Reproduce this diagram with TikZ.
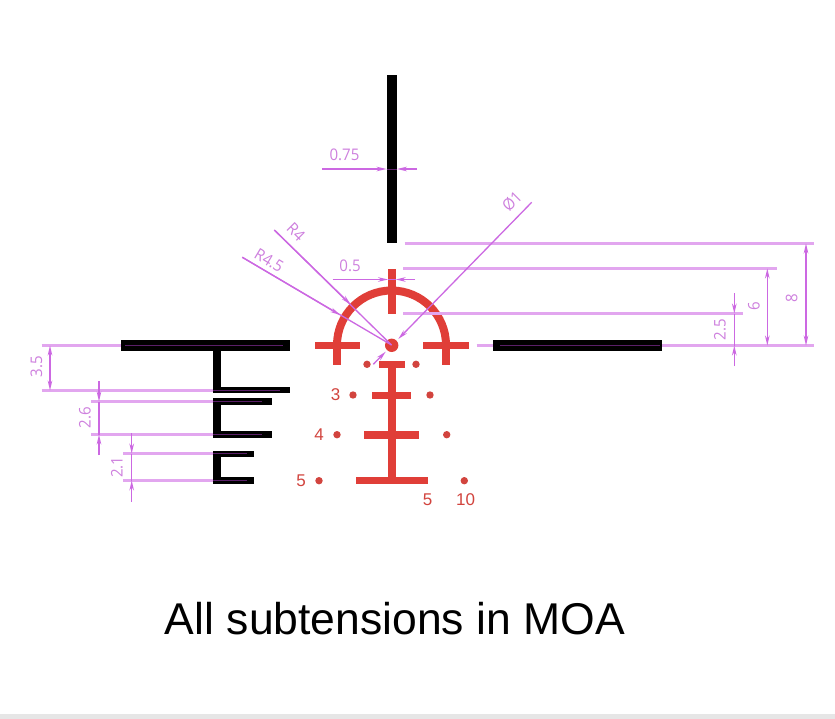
\documentclass[tikz,border=0pt]{standalone}
\usepackage{fontspec}
\setmainfont{Liberation Sans}
\newfontfamily\dimfont[FakeStretch=0.94]{Open Sans}
\usetikzlibrary{arrows.meta}
\definecolor{dimc}{HTML}{CC68E2}
\definecolor{dimh}{HTML}{E2A6EF}
\definecolor{dimt}{HTML}{CE80DE}
\definecolor{dimover}{HTML}{5A1F68}
\definecolor{retred}{HTML}{E03E38}
\definecolor{labred}{HTML}{D2443E}
\definecolor{foot}{HTML}{E6E6E6}
\tikzset{
  dimline/.style={draw=dimc,line width=1.3pt},
  extline/.style={draw=dimh,line width=2.1pt},
  overline/.style={draw=dimover,line width=0.8pt},
  dimarrow/.style={dimline,-{Stealth[length=10pt,width=4.6pt]}},
  dimboth/.style={dimline,{Stealth[length=10pt,width=4.6pt]}-{Stealth[length=10pt,width=4.6pt]}},
  dimlabel/.style={text=dimt,font=\dimfont\fontsize{16}{18}\selectfont,inner sep=0pt},
  redlabel/.style={text=labred,font=\fontsize{17}{19}\selectfont,inner sep=0pt},
  redbar/.style={fill=retred},
  blackbar/.style={fill=black},
  reddot/.style={fill=labred}
}
\begin{document}
\begin{tikzpicture}[x=1pt,y=-1pt]
\useasboundingbox (0,0) rectangle (835,719);
\fill[white] (0,0) rectangle (835,719);
\fill[foot] (0,714) rectangle (835,719);
% black reticle
\fill[blackbar] (386.5,75) rectangle (397,243);
\fill[blackbar] (121.3,340.3) rectangle (290,350.7);
\fill[blackbar] (493,340.3) rectangle (662,350.7);
\fill[blackbar] (213,350) rectangle (220.7,393.3);
\fill[blackbar] (213,386.7) rectangle (290,393.3);
\fill[blackbar] (213,398.3) rectangle (220.7,438);
\fill[blackbar] (213,398.3) rectangle (271.7,405);
\fill[blackbar] (213,431.3) rectangle (271.7,438);
\fill[blackbar] (213,450.7) rectangle (220.7,484);
\fill[blackbar] (213,450.7) rectangle (253.7,457);
\fill[blackbar] (213,477.3) rectangle (253.7,484);
% streaks of the dimension lines inside the black bars
\draw[overline] (125,345.5) -- (283,345.5);
\draw[overline] (213,390.5) -- (280,390.5);
\draw[overline] (213,401.5) -- (262,401.5);
\draw[overline] (213,434.5) -- (262,434.5);
\draw[overline] (213,453.5) -- (247,453.5);
\draw[overline] (213,480.5) -- (247,480.5);
\draw[overline] (500,345.5) -- (660,345.5);
% red reticle
\draw[retred,line width=8pt] (337,345) .. controls (337,314.9) and (361.4,290.5) .. (391.5,290.5) .. controls (421.6,290.5) and (446,314.9) .. (446,345);
\fill[redbar] (388,268.7) rectangle (395.7,313.5);
\fill[redbar] (314.7,341.7) rectangle (360,349);
\fill[redbar] (423,341.7) rectangle (468.7,349);
\fill[redbar] (333,345) rectangle (341,364.5);
\fill[redbar] (442,345) rectangle (450,364.5);
\fill[redbar] (379,361) rectangle (404.7,368);
\fill[redbar] (388.3,361) rectangle (395.7,480);
\fill[redbar] (372,391.7) rectangle (411,398.7);
\fill[redbar] (364.3,431) rectangle (419,438.7);
\fill[redbar] (355.7,477) rectangle (427.7,484.3);
\fill[retred] (391.7,345.3) circle[radius=6.7pt];
\foreach \px/\py in {367/364.3,416/364.3,353/395,430/395,337/434.7,446.7/434.7,319/480.7,464.3/480.7}
  \fill[reddot] (\px,\py) circle[radius=3.7pt];
% red labels
\node[redlabel] (lthree) at (335.5,394.5) {3};
\node[redlabel] (lfour) at (319,434.5) {4};
\node[redlabel] (lfive) at (301,480.5) {5};
\node[redlabel] (bfive) at (427.5,499.5) {5};
\node[redlabel] (bten) at (465.5,499.5) {10};
% dimension: left side
\draw[extline] (41.7,345.5) -- (121.3,345.5);
\draw[extline] (41.7,390.5) -- (213,390.5);
\draw[dimboth] (50,345.5) -- (50,390.5);
\draw[extline] (91,401.5) -- (213,401.5);
\draw[extline] (91,434.5) -- (213,434.5);
\draw[dimline] (99,401.5) -- (99,434.5);
\draw[dimarrow] (99,381) -- (99,401.5);
\draw[dimarrow] (99,455) -- (99,434.5);
\draw[extline] (123,453.5) -- (213,453.5);
\draw[extline] (123,480.5) -- (213,480.5);
\draw[dimline] (131.7,453.5) -- (131.7,480.5);
\draw[dimarrow] (131.7,433) -- (131.7,453.5);
\draw[dimarrow] (131.7,501.7) -- (131.7,480.5);
\node[dimlabel,rotate=90] (dimthreefive) at (36.5,367) {3.5};
\node[dimlabel,rotate=90] (dimtwosix) at (85,418) {2.6};
\node[dimlabel,rotate=90] (dimtwoone) at (117,467) {2.1};
% dimension: right side
\draw[extline] (404.7,243.5) -- (814,243.5);
\draw[extline] (403,268.5) -- (776.7,268.5);
\draw[extline] (403,313.5) -- (742.7,313.5);
\draw[extline] (476.7,345.5) -- (493,345.5);
\draw[extline] (662,345.5) -- (814,345.5);
\draw[dimboth] (806,243.5) -- (806,345.5);
\draw[dimboth] (767.3,268.5) -- (767.3,345.5);
\draw[dimline] (734.3,313.5) -- (734.3,345.5);
\draw[dimarrow] (734.3,293.3) -- (734.3,313.5);
\draw[dimarrow] (734.3,366) -- (734.3,345.5);
\node[dimlabel,rotate=90] (dimeight) at (791.7,298.5) {8};
\node[dimlabel,rotate=90] (dimsix) at (754,306) {6};
\node[dimlabel,rotate=90] (dimtwofive) at (720,329.5) {2.5};
% dimension: widths
\draw[overline] (386.5,169) -- (397,169);
\draw[dimarrow] (322,169) -- (386.5,169);
\draw[dimarrow] (417,169) -- (397,169);
\node[dimlabel] (dimzero) at (344.5,155) {0.75};
\draw[dimline] (388,279.5) -- (395.7,279.5);
\draw[dimarrow] (332.7,279.5) -- (388,279.5);
\draw[dimarrow] (415,279.5) -- (395.7,279.5);
\node[dimlabel] (dimhalf) at (350,265.5) {0.5};
% dimension: radii and diameter
\draw[dimline] (274.3,230) -- (391.5,345);
\draw[dimarrow] (274.3,230) -- (350.7,304.5);
\node[dimlabel,rotate=-45] (dimrfour) at (296,232) {R4};
\draw[dimline] (242.3,257.3) -- (391.5,345);
\draw[dimarrow] (242.3,257.3) -- (340,315);
\node[dimlabel,rotate=-31] (dimrfourfive) at (269,260.5) {R4.5};
\draw[dimarrow] (531.7,202.3) -- (398.3,339);
\draw[dimarrow] (373.3,364.3) -- (385.7,351.7);
\node[dimlabel,rotate=45] (dimdia) at (512,201.5) {Ø1};
% caption
\node[inner sep=0pt,anchor=base,font=\fontsize{44.5}{52}\selectfont] (caption) at (395,634) {All subtensions in MOA};
\end{tikzpicture}
\end{document}
